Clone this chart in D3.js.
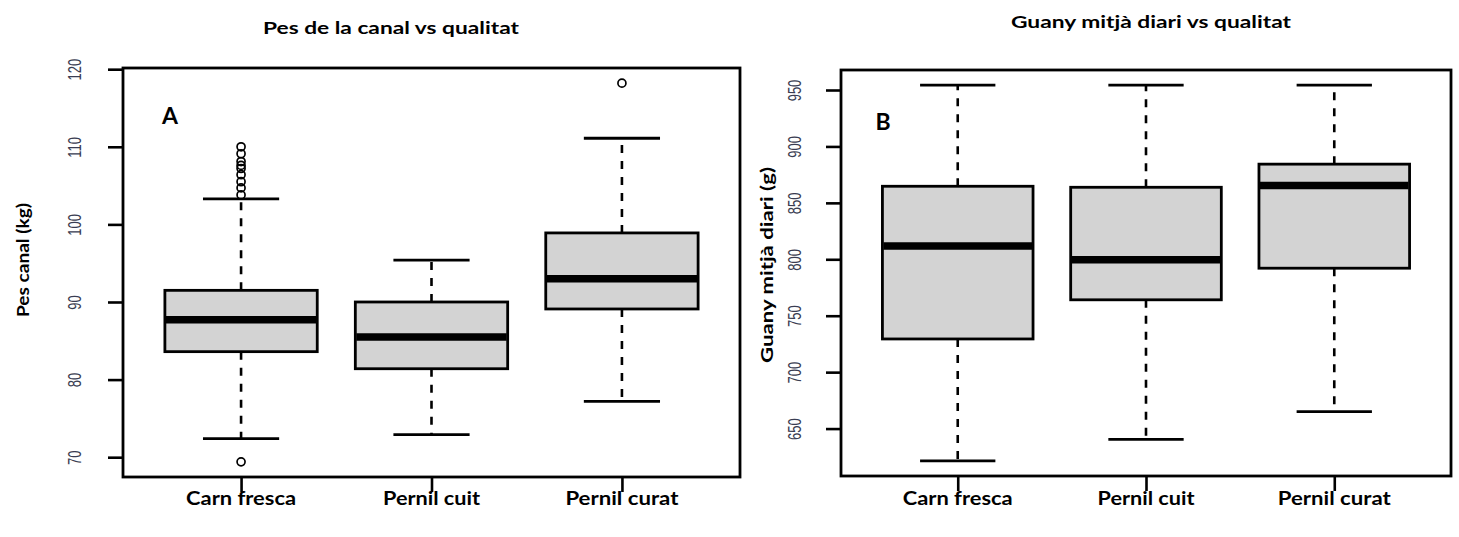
<!DOCTYPE html>
<html>
<head>
<meta charset="utf-8">
<script src="https://cdn.jsdelivr.net/npm/d3@7"></script>
<style>
  html, body { margin: 0; padding: 0; background: #fff; }
  svg { display: block; }
</style>
</head>
<body>
<svg id="chart" width="1459" height="537"></svg>
<script>
// Quality groups shared by both panels
const categories = ["Carn fresca", "Pernil cuit", "Pernil curat"];

// Panel A: carcass weight (kg) — five-number summaries and outliers
const pesWhiskerLow  = [72.4, 72.9, 77.2];
const pesQ1          = [83.6, 81.4, 89.1];
const pesMedian      = [87.7, 85.5, 93.0];
const pesQ3          = [91.5, 90.0, 98.9];
const pesWhiskerHigh = [103.3, 95.4, 111.1];
const pesOutliers    = [
  [69.4, 103.8, 104.7, 105.5, 106.4, 107.2, 107.6, 108.1, 109.1, 110.0],
  [],
  [118.2]
];
const pesTicks = [70, 80, 90, 100, 110, 120];

// Panel B: average daily gain (g)
const gmdWhiskerLow  = [621.3, 640.5, 665.1];
const gmdQ1          = [729.4, 764.1, 792.1];
const gmdMedian      = [811.7, 799.6, 865.3];
const gmdQ3          = [864.7, 863.8, 884.3];
const gmdWhiskerHigh = [954.4, 954.4, 954.4];
const gmdOutliers    = [[], [], []];
const gmdTicks = [650, 700, 750, 800, 850, 900, 950];

const svg = d3.select("#chart");
const labelFont = "Lato, 'Open Sans', sans-serif";
const tickFont = "'Liberation Sans', Arial, sans-serif";
// rendered widths of the label texts (px)
const catWidths = { "Carn fresca": 110, "Pernil cuit": 97, "Pernil curat": 113 };

function drawPanel(cfg) {
  const g = svg.append("g");
  const { left, right, top, bottom } = cfg.frame;

  // R-style range: data extent padded by 4%
  const all = [].concat(cfg.lo, cfg.hi, ...cfg.out);
  const [mn, mx] = d3.extent(all);
  const pad = (mx - mn) * 0.04;
  const y = d3.scaleLinear().domain([mn - pad, mx + pad]).range([bottom, top]);
  const x = d3.scalePoint().domain(categories).range([left, right]).padding(0.62);
  const bw = x.step() * 0.8;

  const rows = categories.map((c, i) => ({
    c, lo: cfg.lo[i], q1: cfg.q1[i], med: cfg.med[i], q3: cfg.q3[i], hi: cfg.hi[i], out: cfg.out[i]
  }));

  const box = g.selectAll("g.box").data(rows).join("g").attr("class", "box");

  // whiskers (dashed)
  box.append("line")
    .attr("x1", d => x(d.c)).attr("x2", d => x(d.c))
    .attr("y1", d => y(d.q3)).attr("y2", d => y(d.hi))
    .attr("stroke", "#000").attr("stroke-width", 2.6).attr("stroke-dasharray", "8,8");
  box.append("line")
    .attr("x1", d => x(d.c)).attr("x2", d => x(d.c))
    .attr("y1", d => y(d.q1)).attr("y2", d => y(d.lo))
    .attr("stroke", "#000").attr("stroke-width", 2.6).attr("stroke-dasharray", "8,8");
  // staples
  ["lo", "hi"].forEach(k => {
    box.append("line")
      .attr("x1", d => x(d.c) - bw / 4).attr("x2", d => x(d.c) + bw / 4)
      .attr("y1", d => y(d[k])).attr("y2", d => y(d[k]))
      .attr("stroke", "#000").attr("stroke-width", 2.8);
  });
  // box
  box.append("rect")
    .attr("x", d => x(d.c) - bw / 2).attr("width", bw)
    .attr("y", d => y(d.q3)).attr("height", d => y(d.q1) - y(d.q3))
    .attr("fill", "#d3d3d3").attr("stroke", "#000").attr("stroke-width", 2.8);
  // median
  box.append("line")
    .attr("x1", d => x(d.c) - bw / 2 + 1).attr("x2", d => x(d.c) + bw / 2 - 1)
    .attr("y1", d => y(d.med)).attr("y2", d => y(d.med))
    .attr("stroke", "#000").attr("stroke-width", 7.5);
  // outliers
  box.selectAll("circle").data(d => d.out.map(v => ({ c: d.c, v }))).join("circle")
    .attr("cx", d => x(d.c)).attr("cy", d => y(d.v)).attr("r", 4)
    .attr("fill", "none").attr("stroke", "#000").attr("stroke-width", 1.7);

  // y axis
  const ya = g.append("g").attr("transform", `translate(${left},0)`)
    .call(d3.axisLeft(y).tickValues(cfg.ticks).tickSize(15).tickSizeOuter(0));
  ya.select(".domain").remove();
  ya.selectAll(".tick line").attr("stroke", "#000").attr("stroke-width", 2.6);
  ya.selectAll(".tick text")
    .attr("x", null).attr("dy", null)
    .attr("text-anchor", "middle").attr("dominant-baseline", "central")
    .attr("transform", `translate(${cfg.tickLabelX - left},0) rotate(-90) scale(1,1.35)`)
    .attr("font-family", tickFont).attr("font-size", 13).attr("fill", "#3a3d52");

  // x axis ticks
  const xa = g.append("g").attr("transform", `translate(0,${bottom})`)
    .call(d3.axisBottom(x).tickSize(15).tickFormat(""));
  xa.select(".domain").remove();
  xa.selectAll(".tick line").attr("stroke", "#000").attr("stroke-width", 2.6);

  // category labels
  g.selectAll("text.cat").data(categories).join("text").attr("class", "cat")
    .attr("x", d => x(d)).attr("y", cfg.catY)
    .attr("text-anchor", "middle").attr("dominant-baseline", "central")
    .attr("font-family", labelFont).attr("font-weight", 700).attr("font-size", 19.5)
    .attr("textLength", d => catWidths[d]).attr("lengthAdjust", "spacingAndGlyphs")
    .attr("fill", "#000")
    .text(d => d);

  // frame
  g.append("rect")
    .attr("x", left).attr("y", top).attr("width", right - left).attr("height", bottom - top)
    .attr("fill", "none").attr("stroke", "#000").attr("stroke-width", 2.8);

  // title
  g.append("text").attr("x", cfg.titleX).attr("y", cfg.titleY)
    .attr("text-anchor", "middle").attr("dominant-baseline", "central")
    .attr("font-family", labelFont).attr("font-weight", 700).attr("font-size", 17.5)
    .attr("textLength", cfg.titleW).attr("lengthAdjust", "spacingAndGlyphs")
    .text(cfg.title);

  // y axis title
  g.append("text")
    .attr("transform", `translate(${cfg.yTitleX},${cfg.yTitleY}) rotate(-90)`)
    .attr("text-anchor", "middle").attr("dominant-baseline", "central")
    .attr("font-family", labelFont).attr("font-weight", 700).attr("font-size", 17.5)
    .attr("textLength", cfg.yTitleW).attr("lengthAdjust", "spacingAndGlyphs")
    .text(cfg.yTitle);

  // panel letter
  g.append("text").attr("x", cfg.letterX).attr("y", cfg.letterY)
    .attr("text-anchor", "middle").attr("dominant-baseline", "central")
    .attr("font-family", labelFont).attr("font-weight", 700).attr("font-size", 23)
    .text(cfg.letter);
}

drawPanel({
  frame: { left: 123, right: 740, top: 68, bottom: 477 },
  lo: pesWhiskerLow, q1: pesQ1, med: pesMedian, q3: pesQ3, hi: pesWhiskerHigh, out: pesOutliers,
  ticks: pesTicks, tickLabelX: 75, catY: 497,
  title: "Pes de la canal vs qualitat", titleX: 391, titleY: 27, titleW: 256,
  yTitle: "Pes canal (kg)", yTitleX: 22, yTitleY: 260, yTitleW: 114,
  letter: "A", letterX: 170, letterY: 115
});

drawPanel({
  frame: { left: 841, right: 1451, top: 70, bottom: 476 },
  lo: gmdWhiskerLow, q1: gmdQ1, med: gmdMedian, q3: gmdQ3, hi: gmdWhiskerHigh, out: gmdOutliers,
  ticks: gmdTicks, tickLabelX: 795, catY: 497,
  title: "Guany mitjà diari vs qualitat", titleX: 1151, titleY: 21, titleW: 280,
  yTitle: "Guany mitjà diari (g)", yTitleX: 766, yTitleY: 265, yTitleW: 196,
  letter: "B", letterX: 883, letterY: 121
});
</script>
</body>
</html>
